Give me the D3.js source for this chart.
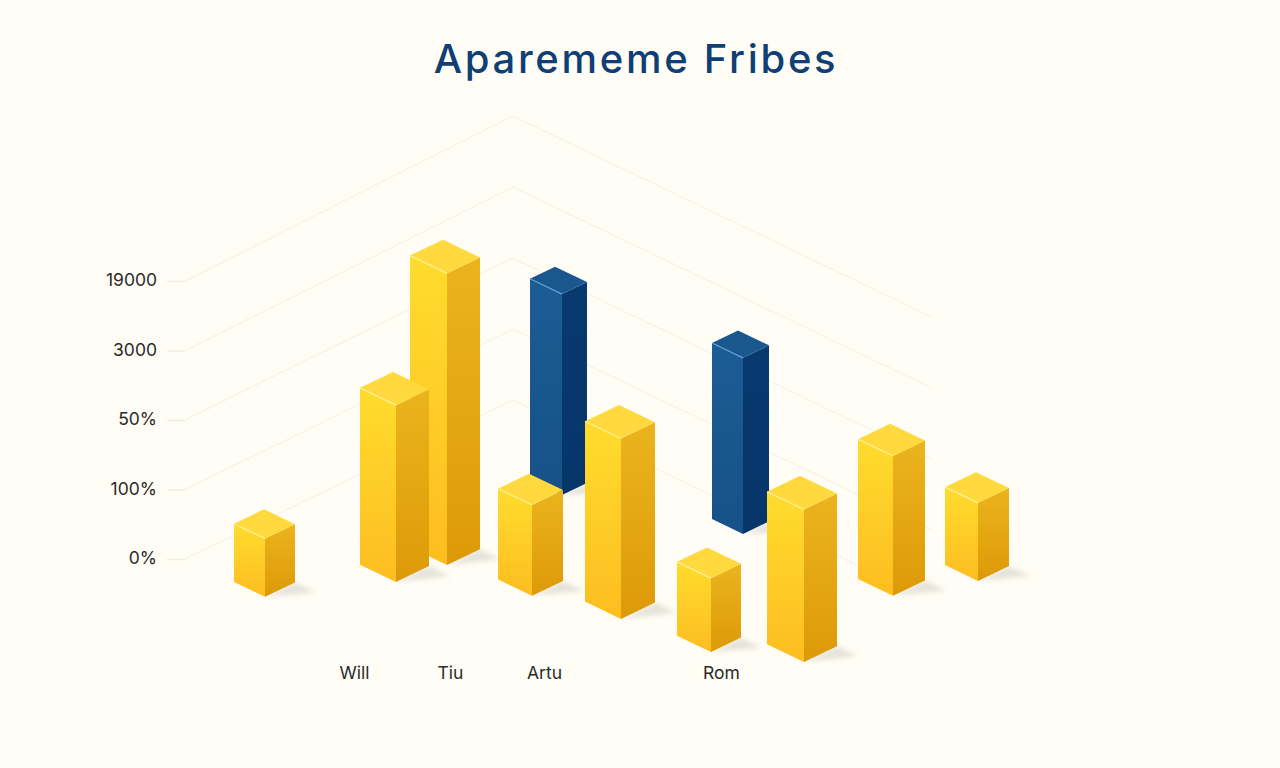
<!DOCTYPE html>
<html>
<head>
<meta charset="utf-8">
<title>Aparememe Fribes</title>
<script src="https://cdn.jsdelivr.net/npm/d3@7"></script>
<style>
  html, body { margin: 0; padding: 0; background: #fffdf5; }
  svg { display: block; }
</style>
</head>
<body>
<div id="chart"></div>
<script>
const chartTitle = "Aparememe Fribes";
const tickLabels = ["0%", "100%", "50%", "3000", "19000"];
const categories = ["Will", "Tiu", "Artu", "Rom"];

// bars. values are in axis steps (one step = one tick)
const barValues = [0.82, 2.49, 4.11, 2.83, 1.28, 2.54, 2.48, 1.04, 2.15, 1.97, 1.1];
const barSeries = [0, 0, 0, 1, 0, 0, 1, 0, 0, 0, 0]; // 0 yellow, 1 blue
// where each bar stands on the floor, in floor units
const barAcross = [0.81, 1.31, 1.39, 1.235, 2.135, 2.82, 2.545, 3.615, 4.185, 3.94, 4.21];
const barAlong = [3.29, 2.48, 2.05, 0.745, 1.945, 1.74, 0.245, 1.635, 1.275, 0.14, -0.44];
const barSizeAcross = [0.31, 0.36, 0.37, 0.32, 0.34, 0.36, 0.31, 0.34, 0.37, 0.35, 0.33];
const barSizeAlong = [0.3, 0.33, 0.33, 0.25, 0.31, 0.34, 0.26, 0.3, 0.33, 0.32, 0.31];
// how far each wall line runs to the right, per level
const gridReach = [3.9, 4.2, 4.2, 4.2, 4.2];
const gridLeftReach = 3.28;

const svgWidth = 1280;
const svgHeight = 768;
const bgColor = "#fffdf5";

const svg = d3
  .select("#chart")
  .append("svg")
  .attr("width", svgWidth)
  .attr("height", svgHeight)
  .style("background", bgColor);

// Scales
// floor projection: (across - along) goes to screen x, (across + along) to screen y
const floorX = d3.scaleLinear().domain([0, 1]).range([513, 613]);
const floorY = d3.scaleLinear().domain([0, 1]).range([400, 448]);
const lift = d3.scaleLinear().domain([0, 4]).range([0, 284]);
const tickY = d3.scaleLinear().domain([0, 4]).range([559, 281]);
const categoryX = d3.scaleOrdinal().domain(categories).range([354, 450, 544, 721]);

const project = (across, along, level = 0) => [
  floorX(across - along),
  floorY(across + along) - lift(level),
];

const bars = barValues
  .map((value, i) => ({
    value,
    series: barSeries[i],
    across: barAcross[i],
    along: barAlong[i],
    sizeAcross: barSizeAcross[i],
    sizeAlong: barSizeAlong[i],
  }))
  // painter's order, back of the floor first
  .sort((a, b) => a.across + a.along - (b.across + b.along));

const palette = [
  { left: ["#ffdc2e", "#fdbd20"], right: ["#ebb41c", "#dd9a08"], top: "#ffd93e", edge: "#fff09a" },
  { left: ["#1c5c94", "#175189"], right: ["#08396f", "#06356a"], top: "#1a578f", edge: "#5f9fd4" },
];

// Gradients
const defs = svg.append("defs");
palette.forEach((p, i) => {
  ["left", "right"].forEach((side) => {
    const grad = defs
      .append("linearGradient")
      .attr("id", `${side}-${i}`)
      .attr("x1", 0)
      .attr("y1", 0)
      .attr("x2", 0)
      .attr("y2", 1);
    grad.append("stop").attr("offset", "0%").attr("stop-color", p[side][0]);
    grad.append("stop").attr("offset", "100%").attr("stop-color", p[side][1]);
  });
});
defs
  .append("filter")
  .attr("id", "soft")
  .attr("x", "-30%")
  .attr("y", "-30%")
  .attr("width", "160%")
  .attr("height", "160%")
  .append("feGaussianBlur")
  .attr("stdDeviation", 2.6);

// Title
svg
  .append("text")
  .attr("x", 636)
  .attr("y", 73)
  .attr("text-anchor", "middle")
  .attr("font-family", "Inter, sans-serif")
  .attr("font-size", 40)
  .attr("font-weight", 500)
  .attr("letter-spacing", "2.7px")
  .attr("fill", "#0f3f74")
  .text(chartTitle);

// Wall lines
const line = d3.line();
svg
  .append("g")
  .attr("fill", "none")
  .attr("stroke", "#f6f4eb")
  .attr("stroke-width", 1.5)
  .selectAll("path")
  .data(tickLabels.map((d, i) => i))
  .join("path")
  .attr("d", (i) =>
    line([
      [floorX(-gridLeftReach), tickY(i)],
      project(0, 0, i),
      project(gridReach[i], 0, i),
    ])
  );

// Axes
const axisStyle = (g) => {
  g.select(".domain").remove();
  g.selectAll("text")
    .attr("font-family", "Inter, sans-serif")
    .attr("font-size", 17.5)
    .attr("fill", "#2a2a2a");
};

svg
  .append("g")
  .attr("transform", `translate(185, 0)`)
  .call(
    d3
      .axisLeft(tickY)
      .tickValues(d3.range(tickLabels.length))
      .tickFormat((i) => tickLabels[i])
      .tickSize(18)
      .tickPadding(10)
  )
  .call(axisStyle)
  .call((g) => g.selectAll("line").attr("stroke", "#f0eee4").attr("stroke-width", 1.5))
  .call((g) => g.selectAll("text").attr("y", -1));

svg
  .append("g")
  .attr("transform", `translate(0, 659)`)
  .call(d3.axisBottom(categoryX).tickSize(0).tickPadding(8))
  .call(axisStyle);

// Bars
const barGroups = svg.append("g").selectAll("g").data(bars).join("g");

const corners = (d, level) => ({
  front: project(d.across, d.along, level),
  left: project(d.across - d.sizeAcross, d.along, level),
  right: project(d.across, d.along - d.sizeAlong, level),
  back: project(d.across - d.sizeAcross, d.along - d.sizeAlong, level),
});
const poly = (points) => line(points) + "Z";

barGroups
  .append("path")
  .attr("fill", "#dedcd4")
  .attr("fill-opacity", 0.8)
  .attr("filter", "url(#soft)")
  .attr("d", (d) => {
    const base = corners(d, 0);
    return poly([base.front, base.right, project(d.across + 0.21, d.along - d.sizeAlong, 0)]);
  });

barGroups
  .append("path")
  .attr("fill", (d) => `url(#left-${d.series})`)
  .attr("d", (d) => {
    const base = corners(d, 0);
    const top = corners(d, d.value);
    return poly([top.left, top.front, base.front, base.left]);
  });

barGroups
  .append("path")
  .attr("fill", (d) => `url(#right-${d.series})`)
  .attr("d", (d) => {
    const base = corners(d, 0);
    const top = corners(d, d.value);
    return poly([top.front, top.right, base.right, base.front]);
  });

barGroups
  .append("path")
  .attr("fill", (d) => palette[d.series].top)
  .attr("d", (d) => {
    const top = corners(d, d.value);
    return poly([top.left, top.back, top.right, top.front]);
  });

barGroups
  .append("path")
  .attr("fill", "none")
  .attr("stroke", (d) => palette[d.series].edge)
  .attr("stroke-width", 1.2)
  .attr("d", (d) => {
    const top = corners(d, d.value);
    return line([top.left, top.front]);
  });
</script>
</body>
</html>
